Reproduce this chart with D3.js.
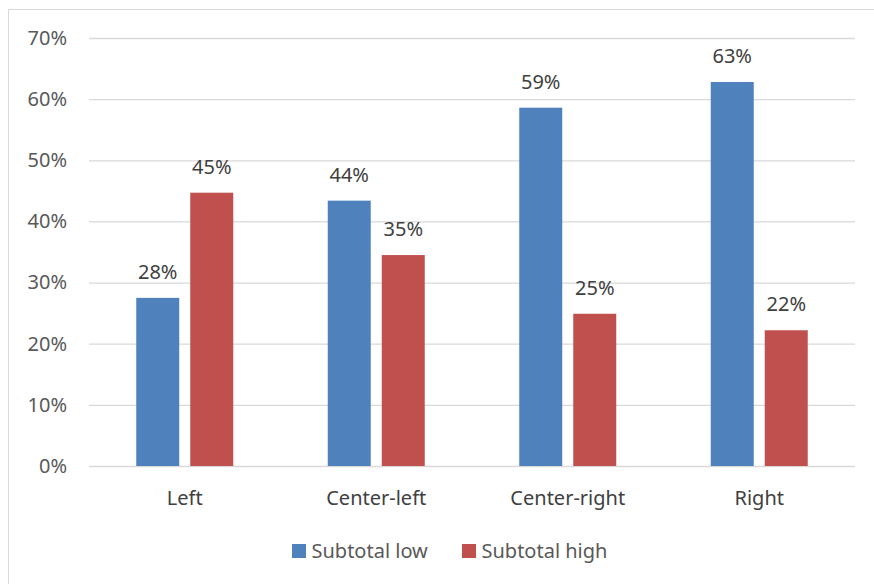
<!DOCTYPE html>
<html>
<head>
<meta charset="utf-8">
<script src="https://cdn.jsdelivr.net/npm/d3@7"></script>
<style>
    body { margin: 0; background: #fff; }
    svg { display: block; font-family: "Noto Sans", sans-serif; }
</style>
</head>
<body>
<script>
const categories = ["Left", "Center-left", "Center-right", "Right"];
const seriesNames = ["Subtotal low", "Subtotal high"];
const subtotalLow = [27.5, 43.4, 58.6, 62.8];
const subtotalHigh = [44.7, 34.5, 24.9, 22.2];
const lowLabels = ["28%", "44%", "59%", "63%"];
const highLabels = ["45%", "35%", "25%", "22%"];
const yTicks = [0, 10, 20, 30, 40, 50, 60, 70];
const colors = ["#4F81BD", "#C0504D"];

const svgWidth = 874;
const svgHeight = 584;
const plot = {left: 89, right: 855, top: 38, bottom: 466};

const svg = d3.select("body").append("svg")
    .attr("width", svgWidth)
    .attr("height", svgHeight);

// chart frame
svg.append("rect")
    .attr("x", 8.5).attr("y", 9.5)
    .attr("width", 900).attr("height", 600)
    .attr("fill", "none")
    .attr("stroke", "#D9D9D9");

const x0 = d3.scaleBand()
    .domain(categories)
    .range([plot.left, plot.right])
    .paddingInner(0.4935)
    .paddingOuter(0.4935 / 2);

const x1 = d3.scaleBand()
    .domain(seriesNames)
    .range([0, x0.bandwidth()])
    .paddingInner(0.204);

const y = d3.scaleLinear()
    .domain([0, 70])
    .range([plot.bottom, plot.top]);

// gridlines + y labels
const yAxis = svg.append("g")
    .attr("transform", `translate(${plot.left},0)`)
    .call(d3.axisLeft(y)
        .tickValues(yTicks)
        .tickSize(-(plot.right - plot.left))
        .tickPadding(22)
        .tickFormat(d => d + "%"))
    .call(g => g.select(".domain").remove());

yAxis.selectAll(".tick line")
    .attr("stroke", "#D9D9D9")
    .attr("stroke-width", 1.3);
yAxis.selectAll(".tick text")
    .attr("fill", "#595959")
    .attr("font-size", 20)
    .attr("font-family", "Noto Sans");

const data = categories.map((c, i) => ({
    category: c,
    values: [
        {series: seriesNames[0], value: subtotalLow[i], label: lowLabels[i]},
        {series: seriesNames[1], value: subtotalHigh[i], label: highLabels[i]}
    ]
}));

const groups = svg.selectAll(".group")
    .data(data)
    .join("g")
    .attr("class", "group")
    .attr("transform", d => `translate(${x0(d.category)},0)`);

groups.selectAll("rect")
    .data(d => d.values)
    .join("rect")
    .attr("x", d => x1(d.series))
    .attr("y", d => y(d.value))
    .attr("width", x1.bandwidth())
    .attr("height", d => y(0) - y(d.value))
    .attr("fill", (d, i) => colors[i]);

groups.selectAll("text")
    .data(d => d.values)
    .join("text")
    .attr("x", d => x1(d.series) + x1.bandwidth() / 2)
    .attr("y", d => y(d.value) - 19)
    .attr("text-anchor", "middle")
    .attr("font-size", 20)
    .attr("fill", "#404040")
    .text(d => d.label);

// category labels
svg.append("g")
    .selectAll("text")
    .data(categories)
    .join("text")
    .attr("x", d => x0(d) + x0.bandwidth() / 2)
    .attr("y", 505)
    .attr("text-anchor", "middle")
    .attr("font-size", 20)
    .attr("fill", "#404040")
    .text(d => d);

// legend
const legendX = [292, 462];
const legend = svg.append("g")
    .selectAll("g")
    .data(seriesNames)
    .join("g")
    .attr("transform", (d, i) => `translate(${legendX[i]},544)`);

legend.append("rect")
    .attr("width", 14)
    .attr("height", 14)
    .attr("fill", (d, i) => colors[i]);

legend.append("text")
    .attr("x", 19.5)
    .attr("y", 13.5)
    .attr("font-size", 20)
    .attr("fill", "#595959")
    .text(d => d);
</script>
</body>
</html>
